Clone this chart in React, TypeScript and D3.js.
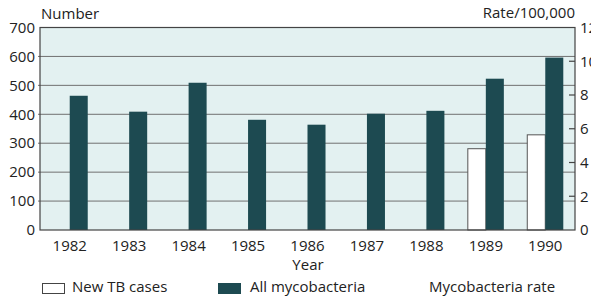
import React from "react";
import * as d3 from "d3";

const years = ["1982", "1983", "1984", "1985", "1986", "1987", "1988", "1989", "1990"];
const newTB: (number | null)[] = [null, null, null, null, null, null, null, 281, 329];
const allMyco = [464, 409, 509, 381, 364, 402, 412, 523, 596];
const leftTicks = [0, 100, 200, 300, 400, 500, 600, 700];
const rightTicks = [0, 2, 4, 6, 8, 10, 12];
const series = ["New TB cases", "All mycobacteria"];

const W = 591, H = 297;
const M = { left: 40, right: 575, top: 27.5, bottom: 230 };
const FONT = "'Open Sans', sans-serif";
const BG = "#e3f1f1";
const DARK = "#1d4a51";
const GRID = "#707070";

export default function App() {
  const x = d3.scaleBand<string>().domain(years).range([M.left, M.right]).paddingInner(0.394).paddingOuter(0.197);
  const xs = d3.scaleBand<string>().domain(series).range([0, x.bandwidth()]);
  const y = d3.scaleLinear().domain([0, 700]).range([M.bottom, M.top]);
  const yr = d3.scaleLinear().domain([0, 12]).range([M.bottom, M.top]);

  return (
    <svg width={W} height={H} style={{ position: "absolute", left: 0, top: 0, background: "#fff" }} fontFamily={FONT}>
      <rect x={M.left} y={M.top} width={M.right - M.left} height={M.bottom - M.top} fill={BG} />
      {leftTicks.filter((t) => t > 0 && t < 700).map((t) => (
        <line key={t} x1={M.left - 2} x2={M.right} y1={y(t)} y2={y(t)} stroke={GRID} strokeWidth={1} />
      ))}
      {years.map((yv, i) => (
        <g key={yv}>
          {newTB[i] != null && (
            <rect x={x(yv)! + xs(series[0])!} y={y(newTB[i] as number)} width={xs.bandwidth()} height={M.bottom - y(newTB[i] as number)} fill="#fff" stroke="#555" strokeWidth={1} />
          )}
          <rect x={x(yv)! + xs(series[1])!} y={y(allMyco[i])} width={xs.bandwidth()} height={M.bottom - y(allMyco[i])} fill={DARK} />
        </g>
      ))}
      <rect x={M.left} y={M.top} width={M.right - M.left} height={M.bottom - M.top} fill="none" stroke="#444" strokeWidth={1.2} />
      {leftTicks.map((t) => (
        <text key={t} x={35} y={y(t)} dy="0.35em" textAnchor="end" fontSize={15} fill="#222">{t}</text>
      ))}
      {rightTicks.map((t) => (
        <g key={t}>
          {t > 0 && t < 12 && <line x1={M.right - 6} x2={M.right} y1={yr(t)} y2={yr(t)} stroke="#444" strokeWidth={1.2} />}
          <text x={580} y={yr(t)} dy="0.35em" fontSize={15} fill="#222">{t}</text>
        </g>
      ))}
      {years.map((yv) => (
        <text key={yv} x={x(yv)! + x.bandwidth() / 2} y={251} textAnchor="middle" fontSize={15} fill="#222">{yv}</text>
      ))}
      <text x={308} y={270} textAnchor="middle" fontSize={15} fill="#222">Year</text>
      <text x={41} y={19} fontSize={15} fill="#222">Number</text>
      <text x={575} y={18} textAnchor="end" fontSize={15} fill="#222">Rate/100,000</text>
      <rect x={42.5} y={283.5} width={22} height={10} fill="#fff" stroke="#444" strokeWidth={1} />
      <text x={72} y={292} fontSize={15} fill="#222">New TB cases</text>
      <rect x={218} y={283} width={23} height={11} fill={DARK} />
      <text x={250} y={292} fontSize={15} fill="#222">All mycobacteria</text>
      <text x={429} y={292} fontSize={15} fill="#222">Mycobacteria rate</text>
    </svg>
  );
}
